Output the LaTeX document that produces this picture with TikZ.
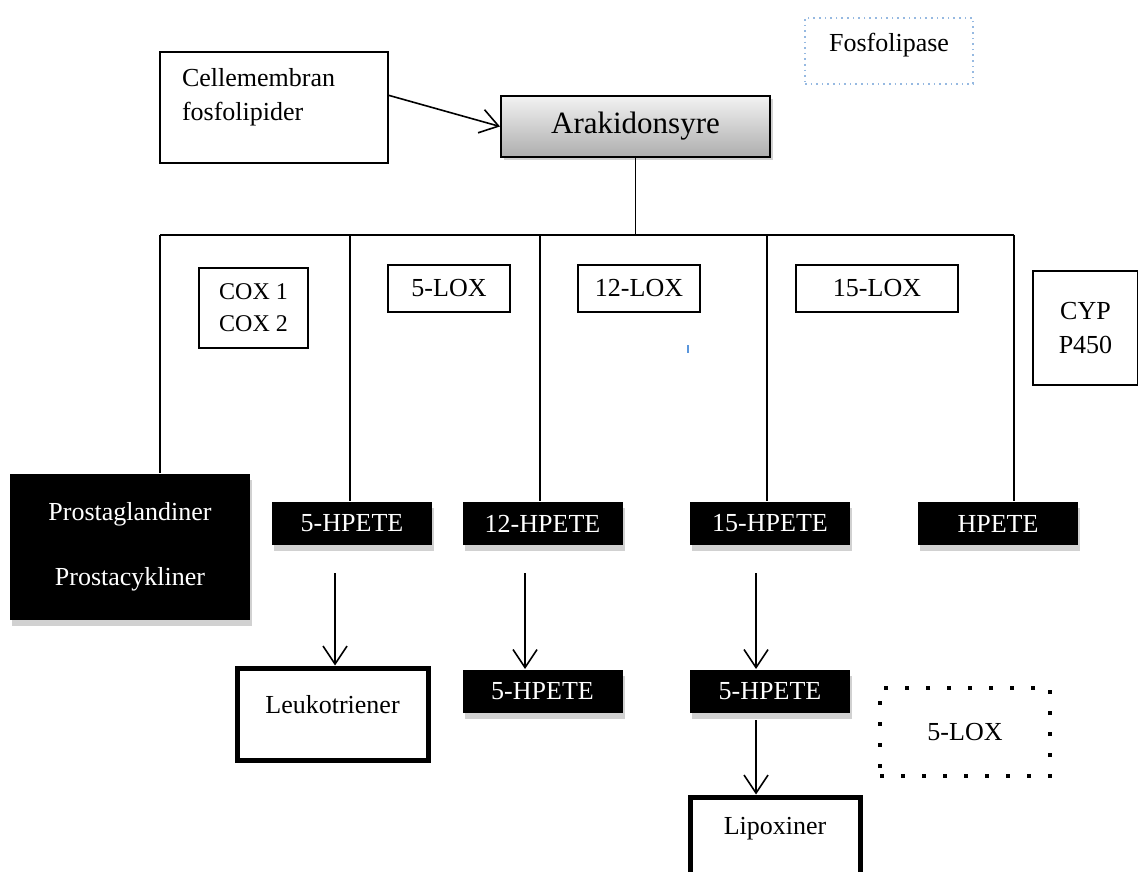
\documentclass[tikz,border=0pt]{standalone}
\usepackage{fontspec}
\setmainfont{Liberation Serif}
\usetikzlibrary{arrows.meta, shadows}
\tikzset{>={Straight Barb[length=9pt,width=12pt]}}
\definecolor{fosblue}{RGB}{150,185,225}
\definecolor{markblue}{RGB}{90,150,220}
\tikzset{
  box/.style={draw, line width=1pt, inner sep=0pt, align=center,
    font=\fontsize{13}{17}\selectfont},
  fatbox/.style={box, line width=2.5pt},
  dotbox/.style={box, draw=fosblue, line width=0.8pt, dotted},
  squarebox/.style={box, line width=2pt, dash pattern=on 2pt off 8.5pt},
  darkbox/.style={box, draw=none, fill=black, text=white,
    drop shadow={shadow xshift=1pt, shadow yshift=-3pt, fill=black!18, opacity=1}},
  hpetebox/.style={darkbox, minimum width=80pt, minimum height=21.5pt},
  loxbox/.style={box, minimum width=61pt, minimum height=23.5pt},
}

\begin{document}
\begin{tikzpicture}[x=0.5pt, y=-0.5pt, line width=0.8pt]
  \useasboundingbox (0,0) rectangle (1138,871);
  \clip (0,0) rectangle (1138,871);

  % top row
  \node[dotbox, minimum width=84pt, text height=17pt, text depth=16pt] (fosfolipase) at (889,51) {Fosfolipase};
  \node[box, align=left, text width=92pt, inner xsep=11pt, text height=17.5pt, text depth=38pt] (membrane) at (274,107.5) {Cellemembran\\fosfolipider};
  \node[box, minimum width=134.5pt, minimum height=30.5pt, top color=black!5, bottom color=black!32,
    font=\fontsize{15.5}{18}\selectfont,
    drop shadow={shadow xshift=1.5pt, shadow yshift=-1.5pt, fill=black!18, opacity=1}] (arachidonic) at (635.5,126.5) {Arakidonsyre};
  \draw[->] (membrane.6) -- (arachidonic.west);

  % enzymes
  \node[box, minimum width=54.5pt, minimum height=40pt, font=\fontsize{12}{16}\selectfont] (cox) at (253.5,308) {COX 1\\COX 2};
  \node[loxbox] (lox5) at (449,288.5) {5-LOX};
  \node[loxbox] (lox12) at (639,288.5) {12-LOX};
  \node[loxbox, minimum width=81pt] (lox15) at (877,288.5) {15-LOX};
  \node[box, minimum width=52.5pt, minimum height=57pt] (cyp) at (1085.5,328) {CYP\\P450};
  \draw[markblue, line width=1pt] (688,345) -- (688,353);

  % products
  \node[darkbox, minimum width=120pt, minimum height=73pt] (prost) at (130,547) {Prostaglandiner\\[15.5pt]Prostacykliner};
  \node[hpetebox] (hpete5) at (352,523.5) {5-HPETE};
  \node[hpetebox] (hpete12) at (542.5,523.5) {12-HPETE};
  \node[hpetebox] (hpete15) at (770,523.5) {15-HPETE};
  \node[hpetebox] (hpete) at (998,523.5) {HPETE};

  \node[fatbox, minimum width=95.5pt, text height=22.5pt, text depth=23.5pt] (leuko) at (332.5,714) {Leukotriener};
  \node[hpetebox] (hpete12b) at (542.5,691.5) {5-HPETE};
  \node[hpetebox] (hpete15b) at (770,691.5) {5-HPETE};
  \node[squarebox, minimum width=85pt, minimum height=44pt] (lox5b) at (965,732) {5-LOX};
  \node[fatbox, minimum width=85pt, text height=18.5pt, text depth=33pt] (lipox) at (775,848.5) {Lipoxiner};

  % branches
  \coordinate (split) at (635.5,235);
  \coordinate (b1) at (160,235);
  \coordinate (b2) at (350,235);
  \coordinate (b3) at (540,235);
  \coordinate (b4) at (767,235);
  \coordinate (b5) at (1014,235);
  \draw (arachidonic) -- (split);
  \draw (b1) -- (b5);
  \draw (b1) -- (b1 |- prost.north);
  \draw (b2) -- (b2 |- hpete5.north);
  \draw (b3) -- (b3 |- hpete12.north);
  \draw (b4) -- (b4 |- hpete15.north);
  \draw (b5) -- (b5 |- hpete.north);

  % arrows
  \coordinate (a1) at (335,573);
  \coordinate (a2) at (525,573);
  \coordinate (a3) at (756,573);
  \coordinate (a4) at (756,720);
  \draw[->] (a1) -- (a1 |- leuko.north);
  \draw[->] (a2) -- (a2 |- hpete12b.north);
  \draw[->] (a3) -- (a3 |- hpete15b.north);
  \draw[->] (a4) -- (a4 |- lipox.north);
\end{tikzpicture}
\end{document}
